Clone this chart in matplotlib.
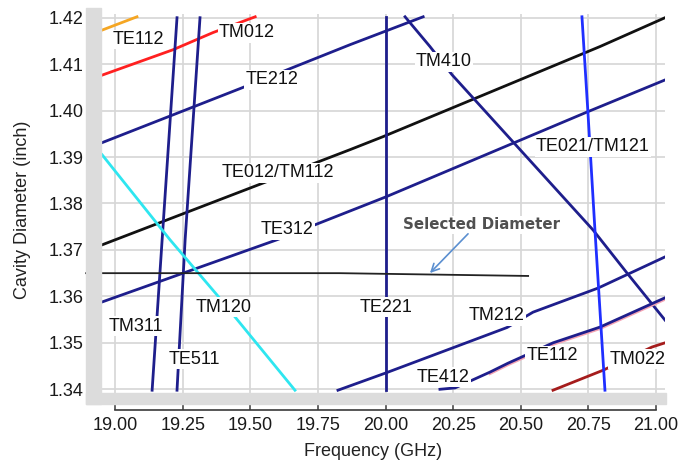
import matplotlib
matplotlib.use('Agg')
import matplotlib.pyplot as plt
from matplotlib.patches import Rectangle
from matplotlib.ticker import MultipleLocator

plt.rcParams['font.family'] = ['Liberation Sans', 'DejaVu Sans']

# mode lines: frequency (GHz) vs cavity diameter (inch)
te112_top_f = [18.955, 19.081]
te112_top_d = [1.4174, 1.4202]

tm012_f = [18.955, 19.214, 19.362, 19.518]
tm012_d = [1.4077, 1.4131, 1.4168, 1.4202]

te212_f = [18.952, 19.469, 19.869, 20.139]
te212_d = [1.3931, 1.4049, 1.4142, 1.4202]

te012_tm112_f = [18.952, 19.869, 19.991, 20.793, 21.033]
te012_tm112_d = [1.3711, 1.3916, 1.3944, 1.4138, 1.4200]

te312_f = [18.952, 19.599, 20.000, 20.745, 21.033]
te312_d = [1.3588, 1.3722, 1.3814, 1.3997, 1.4066]

te021_tm121_f = [20.726, 20.748, 20.774, 20.811]
te021_tm121_d = [1.4202, 1.3997, 1.3743, 1.3398]

te221_f = [20.000, 20.000]
te221_d = [1.3398, 1.4202]

tm311_f = [19.229, 19.174, 19.137]
tm311_d = [1.4200, 1.3722, 1.3398]

te511_f = [19.314, 19.259, 19.229]
te511_d = [1.4200, 1.3722, 1.3398]

tm120_f = [18.952, 19.203, 19.377, 19.665]
tm120_d = [1.3905, 1.3722, 1.3603, 1.3398]

tm410_f = [20.072, 20.164, 20.246, 20.767, 20.893, 21.033]
tm410_d = [1.4202, 1.4138, 1.4077, 1.3743, 1.3650, 1.3549]

tm212_f = [19.824, 20.000, 20.449, 20.545, 20.786, 21.033]
tm212_d = [1.3398, 1.3435, 1.3533, 1.3566, 1.3618, 1.3685]

te412_f = [20.201, 20.257, 20.386, 20.452, 20.619, 20.793, 21.033]
te412_d = [1.3400, 1.3403, 1.3437, 1.3456, 1.3500, 1.3534, 1.3597]

te112_low_f = [20.386, 20.452, 20.619, 20.793, 21.033]
te112_low_d = [1.3434, 1.3453, 1.3497, 1.3531, 1.3594]

tm022_f = [20.619, 20.804, 20.985, 21.033]
tm022_d = [1.3398, 1.3441, 1.3491, 1.3500]

selected_f = [18.893, 19.830, 20.527]
selected_d = [1.3650, 1.3650, 1.3644]

# mode labels and where they sit
label_text = ['TE112', 'TM012', 'TE212', 'TE012/TM112', 'TE312', 'TM410',
              'TE021/TM121', 'TM120', 'TM311', 'TE511', 'TE221', 'TM212',
              'TE412', 'TE112', 'TM022']
label_f = [19.085, 19.488, 19.580, 19.603, 19.636, 20.216, 20.767, 19.403,
           19.078, 19.292, 20.000, 20.412, 20.213, 20.616, 20.930]
label_d = [1.4153, 1.4168, 1.4066, 1.3866, 1.3743, 1.4105, 1.3922, 1.3577,
           1.3536, 1.3465, 1.3577, 1.3558, 1.3426, 1.3472, 1.3465]

navy = '#1e1e8c'

fig = plt.figure(figsize=(6.87, 4.68), dpi=100)
W, H = 687, 468

# grey frame left of and below the plotting area
fig.patches.append(Rectangle((86 / W, (H - 404) / H), 15 / W, 396 / H,
                             transform=fig.transFigure, color='#dcdcdc', zorder=0))
fig.patches.append(Rectangle((86 / W, (H - 404) / H), 580 / W, 11 / H,
                             transform=fig.transFigure, color='#dcdcdc', zorder=0))

ax = fig.add_axes([101 / W, (H - 393) / H, 564 / W, 379 / H])
ax.set_xlim(18.948, 21.033)
ax.set_ylim(1.3392, 1.4208)

ax.plot(te112_top_f, te112_top_d, color='#f5a623', lw=2)
ax.plot(tm012_f, tm012_d, color='#ff2020', lw=2)
ax.plot(te212_f, te212_d, color=navy, lw=2)
ax.plot(te012_tm112_f, te012_tm112_d, color='#111111', lw=2)
ax.plot(te312_f, te312_d, color=navy, lw=2)
ax.plot(te221_f, te221_d, color=navy, lw=2)
ax.plot(tm311_f, tm311_d, color=navy, lw=2)
ax.plot(te511_f, te511_d, color=navy, lw=2)
ax.plot(tm120_f, tm120_d, color='#2ee6f0', lw=2)
ax.plot(tm410_f, tm410_d, color=navy, lw=2)
ax.plot(tm212_f, tm212_d, color=navy, lw=2)
ax.plot(te112_low_f, te112_low_d, color='#f4a3b3', lw=2.2)
ax.plot(te412_f, te412_d, color=navy, lw=2)
ax.plot(tm022_f, tm022_d, color='#a51c1c', lw=2)
ax.plot(te021_tm121_f, te021_tm121_d, color='#1f2fff', lw=2)
ax.plot(selected_f, selected_d, color='#222222', lw=1.3, clip_on=False)

for txt, f, d in zip(label_text, label_f, label_d):
    ax.text(f, d, txt, fontsize=13, color='#111111', ha='center', va='center',
            zorder=5, bbox=dict(facecolor='white', edgecolor='none', pad=1))

ax.text(20.353, 1.3754, 'Selected Diameter', family='DejaVu Sans',
        fontsize=10.8, fontweight='bold', color='#505050', ha='center', va='center',
        zorder=5, bbox=dict(facecolor='white', edgecolor='none', pad=1))
ax.annotate('', xy=(20.157, 1.3646), xytext=(20.312, 1.3739),
            arrowprops=dict(arrowstyle='->', color='#5b8fd0', lw=1.2,
                            mutation_scale=14), zorder=6)

# axes: detached spines with ticks
ax.xaxis.set_major_locator(MultipleLocator(0.25))
ax.yaxis.set_major_locator(MultipleLocator(0.01))
ax.yaxis.set_minor_locator(MultipleLocator(0.005))
ax.xaxis.set_major_formatter(matplotlib.ticker.FormatStrFormatter('%.2f'))
ax.yaxis.set_major_formatter(matplotlib.ticker.FormatStrFormatter('%.2f'))
ax.grid(True, which='major', color='#d6d6d6', lw=1.2)
ax.set_axisbelow(True)

for side in ['top', 'right']:
    ax.spines[side].set_visible(False)
ax.spines['left'].set_position(('outward', 5.8))
ax.spines['bottom'].set_position(('outward', 12.5))
ax.spines['left'].set_bounds(1.34, 1.42)
ax.spines['bottom'].set_bounds(19.0, 21.0)
for side in ['left', 'bottom']:
    ax.spines[side].set_color('#3a3a3a')
    ax.spines[side].set_linewidth(1.2)

ax.tick_params(axis='y', which='major', direction='out', length=4, width=1.1,
               color='#3a3a3a', labelsize=13, pad=3, labelcolor='#1a1a1a')
ax.tick_params(axis='y', which='minor', direction='out', length=3.5, width=1.1,
               color='#3a3a3a')
ax.tick_params(axis='x', which='major', direction='in', length=4, width=1.1,
               color='#3a3a3a', labelsize=13, pad=5, labelcolor='#1a1a1a')

ax.set_xlabel('Frequency (GHz)', fontsize=13, color='#222222')
ax.set_ylabel('Cavity Diameter (inch)', fontsize=13, color='#222222')
ax.xaxis.set_label_coords((373 - 101) / 564, (393 - 443) / 379)
ax.yaxis.set_label_coords((31 - 101) / 564, (393 - 210) / 379)

fig.savefig('out.png', dpi=100)
